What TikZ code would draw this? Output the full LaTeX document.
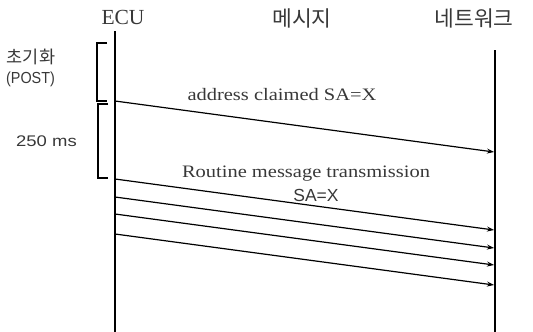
\documentclass[tikz,border=0pt]{standalone}
\usepackage{fontspec}
\setmainfont{Liberation Serif}
\newfontfamily\kr{Noto Sans CJK KR}
\newfontfamily\wserif[FakeStretch=1.17]{Liberation Serif}
\newfontfamily\wsans[FakeStretch=1.2]{Liberation Sans}
\newfontfamily\nsans[FakeStretch=0.9]{Liberation Sans}
\newfontfamily\psans{Liberation Sans}
\usetikzlibrary{arrows.meta}
\definecolor{txt}{HTML}{383838}
\begin{document}
\begin{tikzpicture}[x=1pt,y=-1pt,
  hdr/.style={inner sep=0pt, text=txt},
  lbl/.style={inner sep=0pt, text=txt, anchor=base},
  life/.style={line width=1.7pt},
  brk/.style={line width=1.3pt},
  msg/.style={line width=1.2pt, -{Stealth[length=7pt,width=5pt]}}]
\useasboundingbox (0,0) rectangle (533,332);
% headers
\node[hdr, anchor=base, font=\rmfamily\fontsize{21.5}{21.5}\selectfont] (ecu) at (123,24.5) {ECU};
\node[hdr, font=\kr\fontsize{21.5}{21.5}\selectfont] (msgh) at (302,18) {메시지};
\node[hdr, font=\kr\fontsize{21.5}{21.5}\selectfont] (net) at (474,18) {네트워크};
% lifelines
\coordinate (e0) at (115,31);
\coordinate (e1) at (115,332);
\coordinate (n0) at (495,50);
\coordinate (n1) at (495,332);
\draw[life] (e0) -- (e1);
\draw[life] (n0) -- (n1);
% brackets
\draw[brk] (107,43) -- (97,43) -- (97,101) -- (107,101);
\draw[brk] (108,104) -- (98,104) -- (98,178) -- (108,178);
% left labels
\node[hdr, font=\kr\fontsize{17.5}{17.5}\selectfont] (init) at (31,57) {초기화};
\node[lbl, font=\nsans\fontsize{16}{16}\selectfont] (post) at (30.5,83.5) {(POST)};
\node[lbl, font=\wsans\fontsize{15.4}{15.4}\selectfont] (t250) at (46.5,146) {250 ms};
% messages
\coordinate (a1s) at (115,101);
\coordinate (a1e) at (494,152);
\draw[msg] (a1s) -- (a1e);
\node[lbl, font=\wserif\fontsize{17.5}{17.5}\selectfont] (addr) at (282,100) {address claimed SA=X};
\node[lbl, font=\wserif\fontsize{17.5}{17.5}\selectfont] (rout) at (306,177) {Routine message transmission};
\node[lbl, font=\psans\fontsize{17.5}{17.5}\selectfont] (sax) at (316,201) {SA=X};
\foreach \i/\ys/\ye in {1/179/230, 2/197/248, 3/214/265, 4/234/285} {
  \coordinate (r\i s) at (115,\ys);
  \coordinate (r\i e) at (494,\ye);
  \draw[msg] (r\i s) -- (r\i e);
}
\end{tikzpicture}
\end{document}
